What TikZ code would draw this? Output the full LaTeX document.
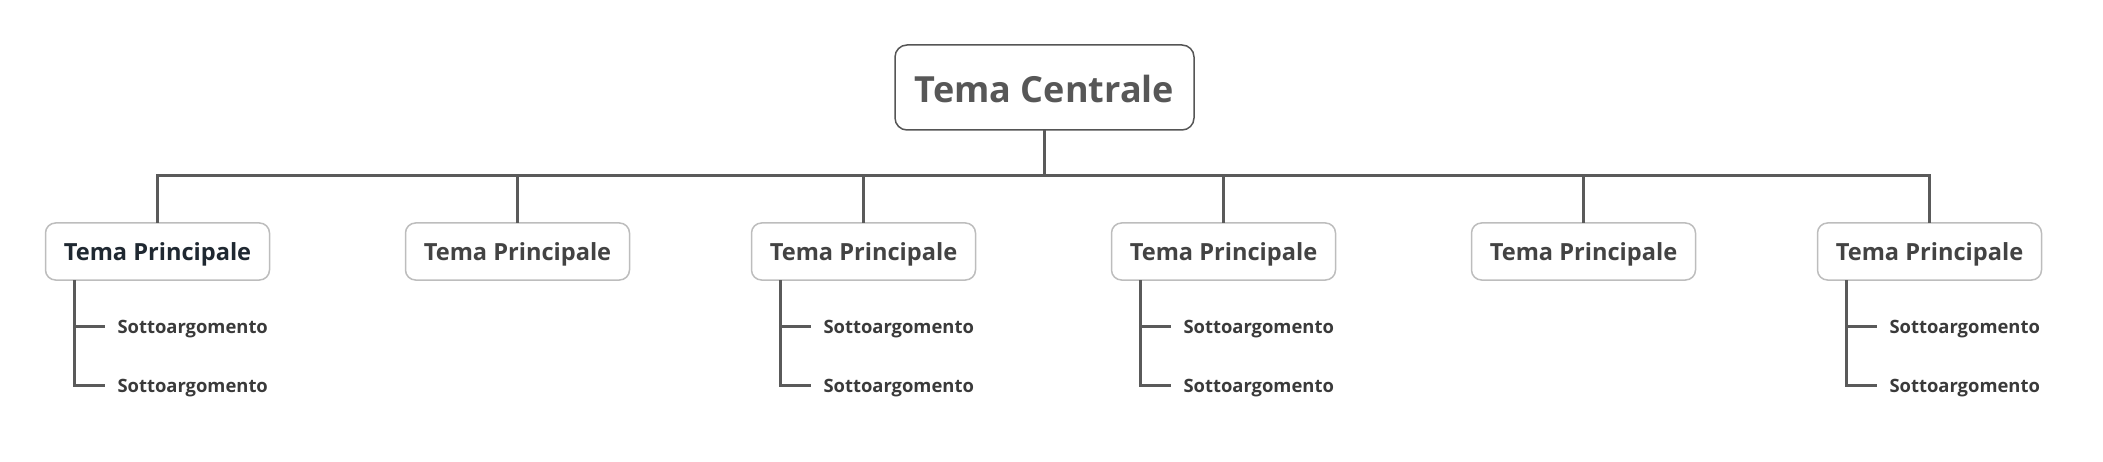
\documentclass[tikz,border=0pt]{standalone}
\usepackage{fontspec}
\setmainfont{Open Sans}
\usetikzlibrary{positioning, calc}
\definecolor{linkcolor}{HTML}{5A5A5A}
\definecolor{centerline}{HTML}{555555}
\definecolor{centertext}{HTML}{575757}
\definecolor{mainline}{HTML}{BDBDBD}
\definecolor{maintext}{HTML}{434343}
\definecolor{focustext}{HTML}{1F2831}
\definecolor{subtext}{HTML}{3A3A3A}

\begin{document}
\begin{tikzpicture}[
  x=1pt, y=-1pt,
  every node/.style={font=\bfseries, outer sep=0pt},
  node distance=122pt and 136pt,
]

\tikzset{
  centralbox/.style={rectangle, rounded corners=12pt, draw=centerline, line width=1.5pt,
    fill=white, text=centertext, minimum width=299pt, minimum height=85pt,
    text height=31pt, text depth=0pt,
    font=\fontsize{36}{40}\selectfont\bfseries},
  mainbox/.style={rectangle, rounded corners=10pt, draw=mainline, line width=1.5pt,
    fill=white, text=maintext, minimum width=224pt, minimum height=57pt,
    text height=19pt, text depth=0pt,
    font=\fontsize{23.6}{28}\selectfont\bfseries},
  subtopic/.style={anchor=west, inner xsep=13pt, inner ysep=0pt,
    text height=14pt, text depth=0pt,
    text=subtext, font=\fontsize{18.4}{22}\selectfont\bfseries},
  branch/.style={draw=linkcolor, line width=3pt},
}

\useasboundingbox (0,0) rectangle (2103,462);

% ---------------------------------------------------------------
% ROOT — central topic
% ---------------------------------------------------------------
\node[centralbox] (center) at (1044.5,87.5) {Tema Centrale};
\coordinate (bar) at ($(center.south)+(0,46)$);

% ---------------------------------------------------------------
% ROW 1 — main topics
% ---------------------------------------------------------------
\node[mainbox, text=focustext] (m1) at (157.5,251.5) {Tema Principale};
\node[mainbox, right=136pt of m1] (m2) {Tema Principale};
\node[mainbox, right=122pt of m2] (m3) {Tema Principale};
\node[mainbox, right=136pt of m3] (m4) {Tema Principale};
\node[mainbox, right=136pt of m4] (m5) {Tema Principale};
\node[mainbox, right=122pt of m5] (m6) {Tema Principale};

% ---------------------------------------------------------------
% ROW 2 — subtopics
% ---------------------------------------------------------------
\node[subtopic] (m1a) at ($(m1.south west)+(59,46)$)  {Sottoargomento};
\node[subtopic] (m1b) at ($(m1.south west)+(59,105)$) {Sottoargomento};
\node[subtopic] (m3a) at ($(m3.south west)+(59,46)$)  {Sottoargomento};
\node[subtopic] (m3b) at ($(m3.south west)+(59,105)$) {Sottoargomento};
\node[subtopic] (m4a) at ($(m4.south west)+(59,46)$)  {Sottoargomento};
\node[subtopic] (m4b) at ($(m4.south west)+(59,105)$) {Sottoargomento};
\node[subtopic] (m6a) at ($(m6.south west)+(59,46)$)  {Sottoargomento};
\node[subtopic] (m6b) at ($(m6.south west)+(59,105)$) {Sottoargomento};

% Root to main topics
\draw[branch] (center.south) -- (bar);
\draw[branch] (bar) -| (m1.north);
\draw[branch] (bar) -| (m2.north);
\draw[branch] (bar) -| (m3.north);
\draw[branch] (bar) -| (m4.north);
\draw[branch] (bar) -| (m5.north);
\draw[branch] (bar) -| (m6.north);

% Main topics to subtopics
\draw[branch] ($(m1.south west)+(29,0)$) |- (m1b.west);
\draw[branch] ($(m1.south west)+(29,0)$) |- (m1a.west);
\draw[branch] ($(m3.south west)+(29,0)$) |- (m3b.west);
\draw[branch] ($(m3.south west)+(29,0)$) |- (m3a.west);
\draw[branch] ($(m4.south west)+(29,0)$) |- (m4b.west);
\draw[branch] ($(m4.south west)+(29,0)$) |- (m4a.west);
\draw[branch] ($(m6.south west)+(29,0)$) |- (m6b.west);
\draw[branch] ($(m6.south west)+(29,0)$) |- (m6a.west);

\end{tikzpicture}
\end{document}
